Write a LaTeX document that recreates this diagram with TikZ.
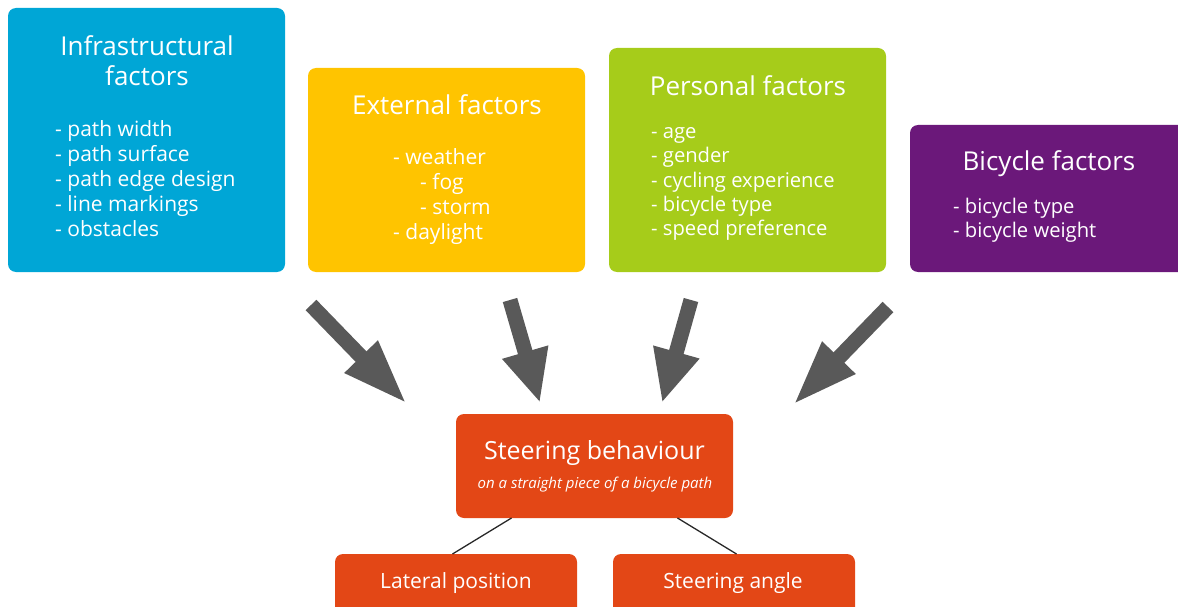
\documentclass[tikz,border=0pt]{standalone}
\usepackage{fontspec}
\setmainfont{Open Sans}
\usetikzlibrary{arrows.meta}
\definecolor{infracol}{RGB}{0,166,214}
\definecolor{extcol}{RGB}{255,196,0}
\definecolor{perscol}{RGB}{166,204,26}
\definecolor{bikecol}{RGB}{107,24,122}
\definecolor{steercol}{RGB}{227,71,22}
\definecolor{arrowgray}{RGB}{89,89,89}
\definecolor{linkcol}{RGB}{40,40,40}
\begin{document}
\begin{tikzpicture}[x=1pt,y=-1pt,
  box/.style={rounded corners=8pt, inner sep=0pt, outer sep=0pt, anchor=north west, draw=none},
  title/.style={text=white, font=\fontsize{26}{30}\selectfont, anchor=base, inner sep=0pt},
  item/.style={text=white, font=\fontsize{21}{25}\selectfont, anchor=base west, inner sep=0pt},
  itemsm/.style={text=white, font=\fontsize{20.2}{25}\selectfont, anchor=base west, inner sep=0pt},
  sub/.style={text=white, font=\fontsize{15}{18}\selectfont\itshape, anchor=base, inner sep=0pt},
  leaf/.style={text=white, font=\fontsize{21}{25}\selectfont, anchor=base, inner sep=0pt},
  bigarrow/.style={draw=arrowgray, line width=15pt},
  link/.style={draw=linkcol, line width=1.3pt}]
\useasboundingbox (0,0) rectangle (1178,607);

% boxes
\node[box, fill=infracol, minimum width=277pt, minimum height=264pt] (infra) at (8,8) {};
\node[box, fill=extcol, minimum width=277pt, minimum height=204pt] (ext) at (308,68) {};
\node[box, fill=perscol, minimum width=277pt, minimum height=224pt] (pers) at (609,48) {};
\node[box, fill=bikecol, minimum width=278pt, minimum height=147pt] (bike) at (910,125) {};
\node[box, fill=steercol, minimum width=277pt, minimum height=104pt] (steer) at (456,414) {};
\node[box, fill=steercol, minimum width=242pt, minimum height=70pt] (lat) at (335,554) {};
\node[box, fill=steercol, minimum width=242pt, minimum height=70pt] (ang) at (613,554) {};

% infrastructural
\node[title] (t1a) at (147,56) {Infrastructural};
\node[title] (t1b) at (147,86) {factors};
\node[item] (i1) at (55,136.5) {- path width};
\node[item] (i2) at (55,161.5) {- path surface};
\node[item] (i3) at (55,186.5) {- path edge design};
\node[item] (i4) at (55,211.5) {- line markings};
\node[item] (i5) at (55,236.5) {- obstacles};

% external
\node[title] (t2) at (447,115) {External factors};
\node[item] (e1) at (393,164.5) {- weather};
\node[item] (e2) at (420,189.5) {- fog};
\node[item] (e3) at (420,214.5) {- storm};
\node[item] (e4) at (393,239.5) {- daylight};

% personal
\node[title] (t3) at (748,95.5) {Personal factors};
\node[itemsm] (p1) at (651,138.5) {- age};
\node[itemsm] (p2) at (651,162.5) {- gender};
\node[itemsm] (p3) at (651,187) {- cycling experience};
\node[itemsm] (p4) at (651,211.5) {- bicycle type};
\node[itemsm] (p5) at (651,235.5) {- speed preference};

% bicycle
\node[title] (t4) at (1049,171) {Bicycle factors};
\node[itemsm] (b1) at (953,213) {- bicycle type};
\node[itemsm] (b2) at (953,237) {- bicycle weight};

% steering
\node[title, font=\fontsize{25}{30}\selectfont] (t5) at (594.5,459.5) {Steering behaviour};
\node[sub] (s5) at (595,488) {on a straight piece of a bicycle path};
\node[leaf] (l1) at (456,588) {Lateral position};
\node[leaf] (l2) at (733,588) {Steering angle};

% big arrows
\coordinate (a1s) at (311,305); \coordinate (a1e) at (407,404);
\coordinate (a2s) at (510,300); \coordinate (a2e) at (540,403);
\coordinate (a3s) at (691,300); \coordinate (a3e) at (662,403);
\coordinate (a4s) at (888,307); \coordinate (a4e) at (793,405);
\draw[bigarrow, -{Triangle[length=66pt,width=42pt]}] (a1s) -- (a1e);
\draw[bigarrow, -{Triangle[length=53pt,width=44pt]}] (a2s) -- (a2e);
\draw[bigarrow, -{Triangle[length=53pt,width=44pt]}] (a3s) -- (a3e);
\draw[bigarrow, -{Triangle[length=66pt,width=42pt]}] (a4s) -- (a4e);

% links
\coordinate (c1) at (511.5,518); \coordinate (c2) at (452.5,554);
\coordinate (c3) at (677.5,518); \coordinate (c4) at (736.5,554);
\draw[link] (c1) -- (c2);
\draw[link] (c3) -- (c4);
\end{tikzpicture}
\end{document}
